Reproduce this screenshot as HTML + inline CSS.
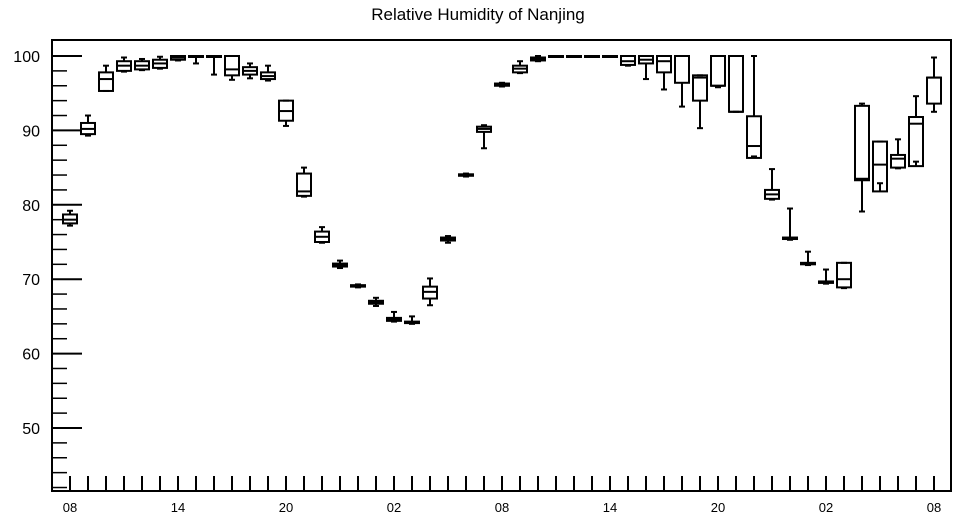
<!DOCTYPE html>
<html><head><meta charset="utf-8"><style>
body{margin:0;background:#fff;}
svg{display:block;font-family:"Liberation Sans",sans-serif;}
</style></head><body>
<svg id="chart" width="957" height="520">
<text x="478" y="20" text-anchor="middle" font-size="17">Relative Humidity of Nanjing</text>
<g id="axes"></g><g id="boxes"></g>
</svg>
<script>
const hours = [0,1,2,3,4,5,6,7,8,9,10,11,12,13,14,15,16,17,18,19,20,21,22,23,24,25,26,27,28,29,30,31,32,33,34,35,36,37,38,39,40,41,42,43,44,45,46,47,48];
const lows  = [77.2,89.3,95.3,97.9,98.1,98.3,99.4,99.0,97.5,96.8,97.0,96.7,90.6,81.1,74.9,71.5,68.9,66.4,64.3,64.0,66.5,74.9,83.8,87.6,95.9,97.7,99.3,100,100,100,100,98.7,96.9,95.5,93.2,90.3,95.8,92.5,86.5,80.7,75.3,71.9,69.4,68.8,79.1,82.9,84.9,85.8,92.5];
const q1s   = [77.5,89.5,95.3,98.0,98.2,98.4,99.5,100,100,97.4,97.5,96.9,91.3,81.2,75.0,71.7,69.0,66.7,64.4,64.1,67.4,75.2,83.9,89.8,96.0,97.8,99.4,100,100,100,100,98.8,99.0,97.8,96.4,94.0,96.0,92.5,86.3,80.8,75.4,72.0,69.5,68.9,83.3,81.8,85.0,85.2,93.6];
const meds  = [78.0,90.2,96.9,98.7,98.7,99.0,99.8,100,100,98.2,98.0,97.3,92.6,81.8,75.7,71.9,69.1,66.9,64.6,64.2,68.3,75.4,84.0,90.2,96.1,98.3,99.6,100,100,100,100,99.3,99.5,99.3,100,97.1,96.0,92.5,87.9,81.4,75.5,72.1,69.6,70.0,83.5,85.4,86.2,90.9,97.1];
const q3s   = [78.7,91.0,97.8,99.3,99.3,99.5,100,100,100,100,98.5,97.8,94.0,84.2,76.4,72.1,69.2,67.1,64.8,64.3,69.0,75.6,84.1,90.5,96.3,98.7,99.8,100,100,100,100,100,100,100,100,97.4,100,100,91.9,82.0,75.6,72.2,69.7,72.2,93.3,88.5,86.7,91.8,97.1];
const highs = [79.2,92.0,98.7,99.8,99.6,99.9,100,100,100,100,99.0,98.7,94.0,85.0,77.0,72.5,69.3,67.5,65.6,65.0,70.1,75.8,84.2,90.7,96.4,99.3,100,100,100,100,100,100,100,100,100,97.4,100,100,100,84.8,79.5,73.7,71.3,72.2,93.6,88.5,88.8,94.6,99.8];
const yTickValues = [50,60,70,80,90,100];
const xTickLabels = ["08","14","20","02","08","14","20","02","08"];

const L=52,R=951,T=40,B=491;
const yScale=v=>56+(100-v)*7.44;
const xScale=h=>70+h*18;
const NS="http://www.w3.org/2000/svg";
function mk(tag,attrs,parent){const e=document.createElementNS(NS,tag);for(const k in attrs)e.setAttribute(k,attrs[k]);parent.appendChild(e);return e;}
const ax=document.getElementById('axes'), bx=document.getElementById('boxes');

const frame=mk('rect',{x:L,y:T,width:R-L,height:B-T,fill:'none',stroke:'#000','stroke-width':2},ax);



// minor y ticks
for(let v=42;v<=100;v+=2){
  const y=yScale(v); if(y>B-1) continue;
  const major=yTickValues.includes(v);
  const t=mk('line',{x1:L,x2:L+(major?30:15),y1:y,y2:y,stroke:'#000','stroke-width':major?2:1.5},ax);
  
  
}
yTickValues.forEach(v=>{
  const t=mk('text',{x:40,y:yScale(v)+6,'text-anchor':'end','font-size':16},ax);
  t.textContent=v;
  
  
});
hours.forEach(h=>{
  const t=mk('line',{x1:xScale(h),x2:xScale(h),y1:B,y2:B-15,stroke:'#000','stroke-width':2},ax);
  
  
});
xTickLabels.forEach((s,i)=>{
  const t=mk('text',{x:xScale(i*6),y:512,'text-anchor':'middle','font-size':13},ax);
  t.textContent=s;
  
  
});

hours.forEach((h,i)=>{
  const g=mk('g',{stroke:'#000','stroke-width':2,fill:'none'},bx);
  
  
  const x=xScale(h),w=14;
  mk('line',{x1:x,x2:x,y1:yScale(highs[i]),y2:yScale(q3s[i])},g);
  mk('line',{x1:x,x2:x,y1:yScale(q1s[i]),y2:yScale(lows[i])},g);
  mk('line',{x1:x-3,x2:x+3,y1:yScale(highs[i]),y2:yScale(highs[i])},g);
  mk('line',{x1:x-3,x2:x+3,y1:yScale(lows[i]),y2:yScale(lows[i])},g);
  const y3=yScale(q3s[i]),y1=yScale(q1s[i]);
  mk('rect',{x:x-w/2,y:y3,width:w,height:Math.max(1,y1-y3)},g);
  mk('line',{x1:x-w/2,x2:x+w/2,y1:yScale(meds[i]),y2:yScale(meds[i])},g);
});
</script>
</body></html>
